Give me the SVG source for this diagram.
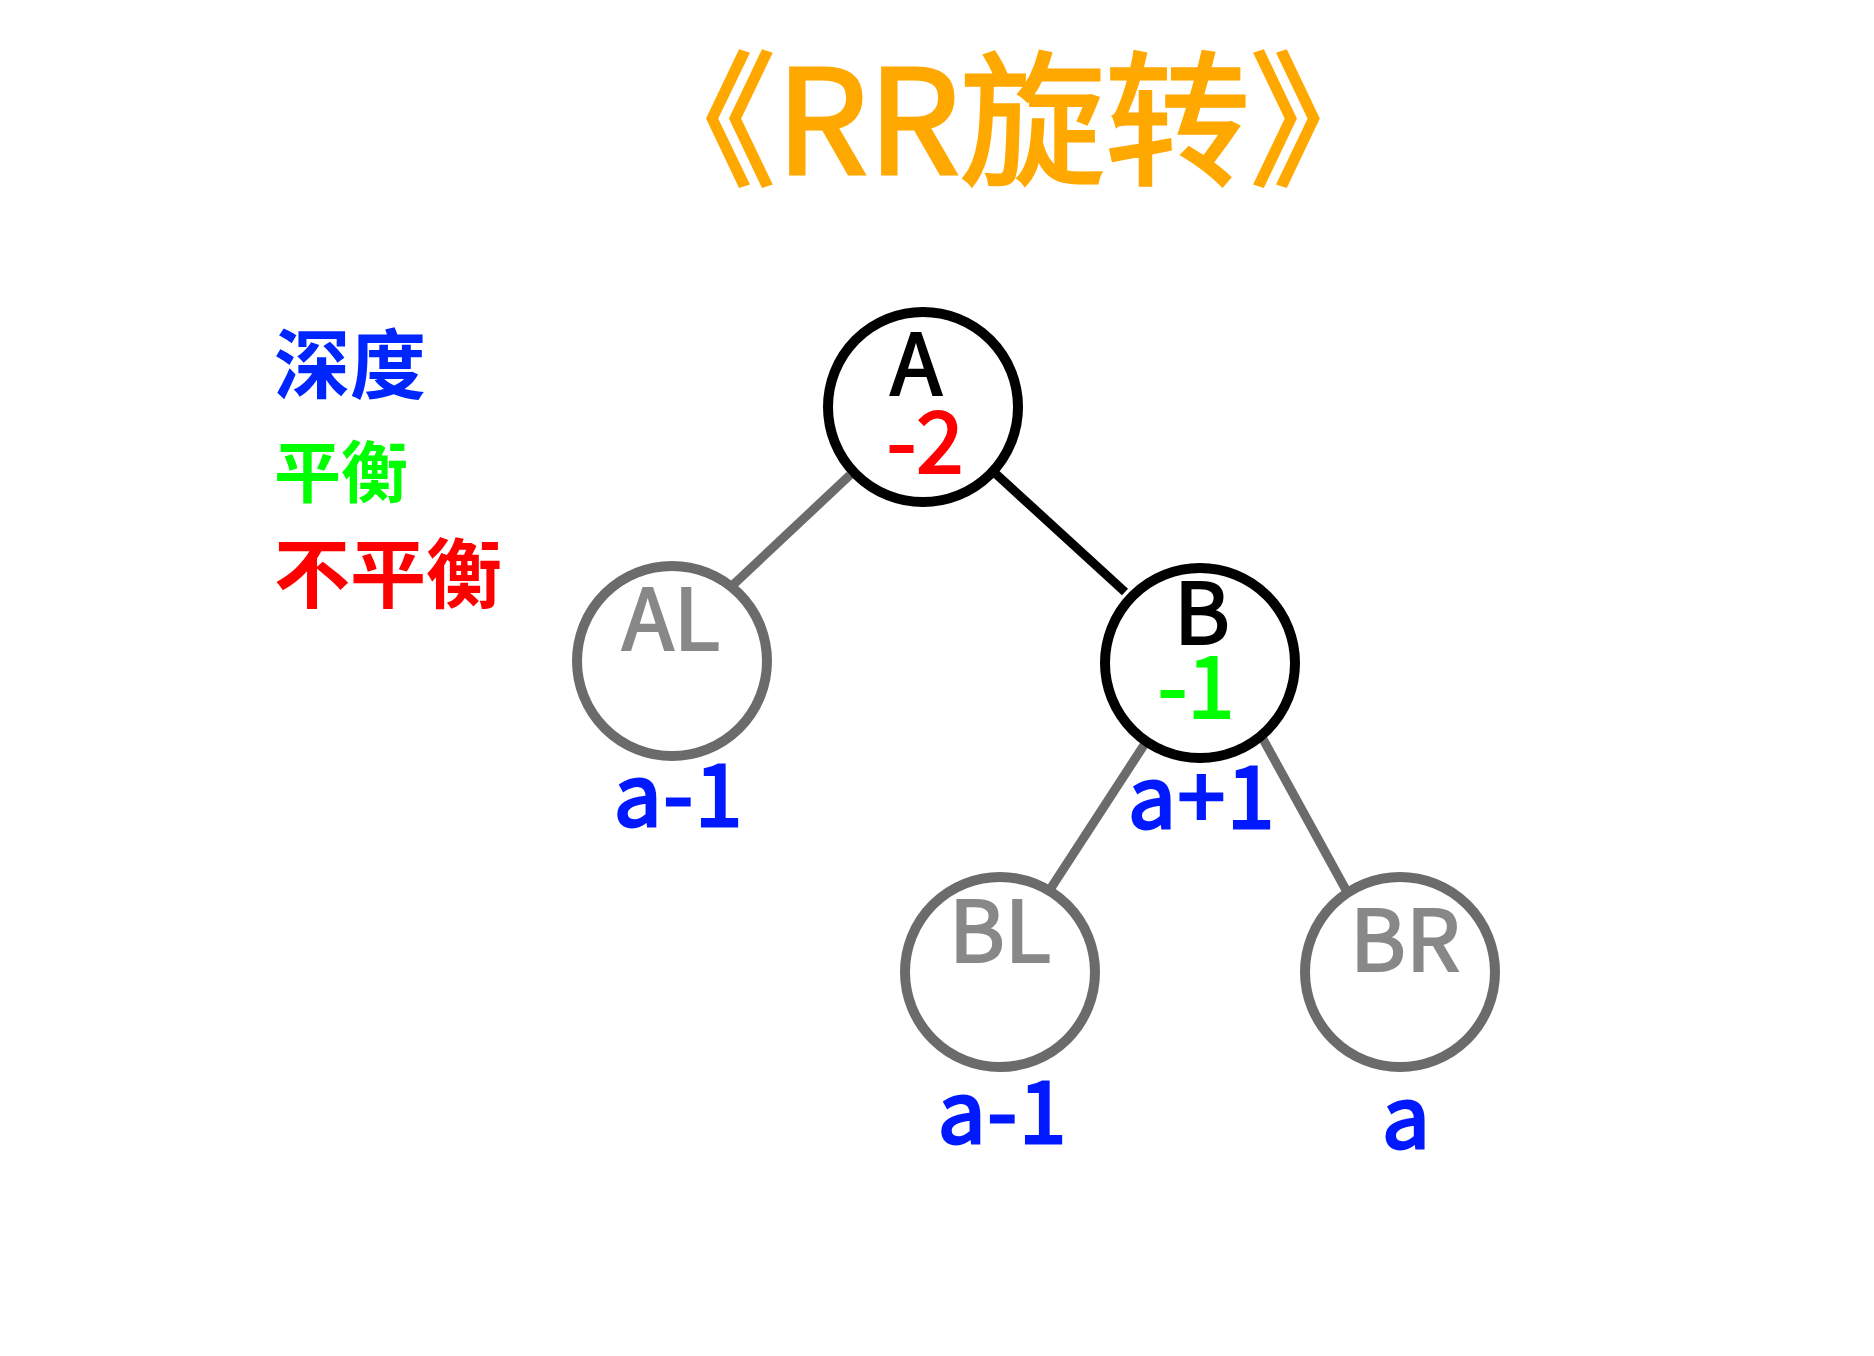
<svg xmlns="http://www.w3.org/2000/svg" width="1874" height="1356" viewBox="0 0 1874 1356">
<style>
text{font-family:"Noto Sans CJK SC","Noto Sans",sans-serif;}
.title{font-size:145px;fill:#FFA800;stroke:#FFA800;stroke-width:3;text-anchor:middle;}
.lbl{font-size:85px;text-anchor:middle;stroke-width:2.2;}
.dep{font-size:85px;font-weight:normal;fill:#0019FF;stroke:#0019FF;stroke-width:3;letter-spacing:2px;text-anchor:middle;}
.leg{font-weight:bold;}
.cb{fill:#fff;stroke:#000;stroke-width:10;}
.cg{fill:#fff;stroke:#6b6b6b;stroke-width:10;}
.lb{stroke:#000;stroke-width:9;stroke-linecap:butt;}
.lg{stroke:#6b6b6b;stroke-width:9;stroke-linecap:butt;}
</style>
<rect width="1874" height="1356" fill="#fff"/>
<text class="title" x="1013" y="174">《RR旋转》</text>
<g id="legend">
<text class="leg" x="274" y="393" font-size="76" fill="#0026FF">深度</text>
<text class="leg" x="274" y="497" font-size="67" fill="#00FF00">平衡</text>
<text class="leg" x="274" y="602" font-size="76" fill="#FF0000">不平衡</text>
</g>
<g id="connectors">
<line class="lg" x1="850" y1="475" x2="734" y2="584"/>
<line class="lb" x1="996" y1="474" x2="1125" y2="592"/>
<line class="lg" x1="1144" y1="745" x2="1051" y2="888"/>
<line class="lg" x1="1263" y1="739" x2="1346" y2="890"/>
</g>
<g id="node-A">
<circle class="cb" cx="923" cy="407" r="95"/>
<text class="lbl" x="916" y="395" fill="#000" stroke="#000">A</text>
<text class="lbl" x="925" y="473" fill="#FF0000" stroke="#FF0000">-2</text>
</g>
<g id="node-AL">
<circle class="cg" cx="672" cy="661" r="95"/>
<text class="lbl" x="671" y="650" fill="#888" stroke="#888">AL</text>
<text class="dep" x="679" y="826">a-1</text>
</g>
<g id="node-B">
<circle class="cb" cx="1200" cy="663" r="95"/>
<text class="lbl" x="1202" y="644" fill="#000" stroke="#000">B</text>
<text class="lbl" x="1196" y="718" fill="#00FF00" stroke="#00FF00">-1</text>
<text class="dep" x="1202" y="828">a+1</text>
</g>
<g id="node-BL">
<circle class="cg" cx="1000" cy="972" r="95"/>
<text class="lbl" x="1000" y="962" fill="#888" stroke="#888">BL</text>
<text class="dep" x="1003" y="1143">a-1</text>
</g>
<g id="node-BR">
<circle class="cg" cx="1400" cy="972" r="95"/>
<text class="lbl" x="1405" y="971" fill="#888" stroke="#888">BR</text>
<text class="dep" x="1407" y="1148">a</text>
</g>
</svg>
